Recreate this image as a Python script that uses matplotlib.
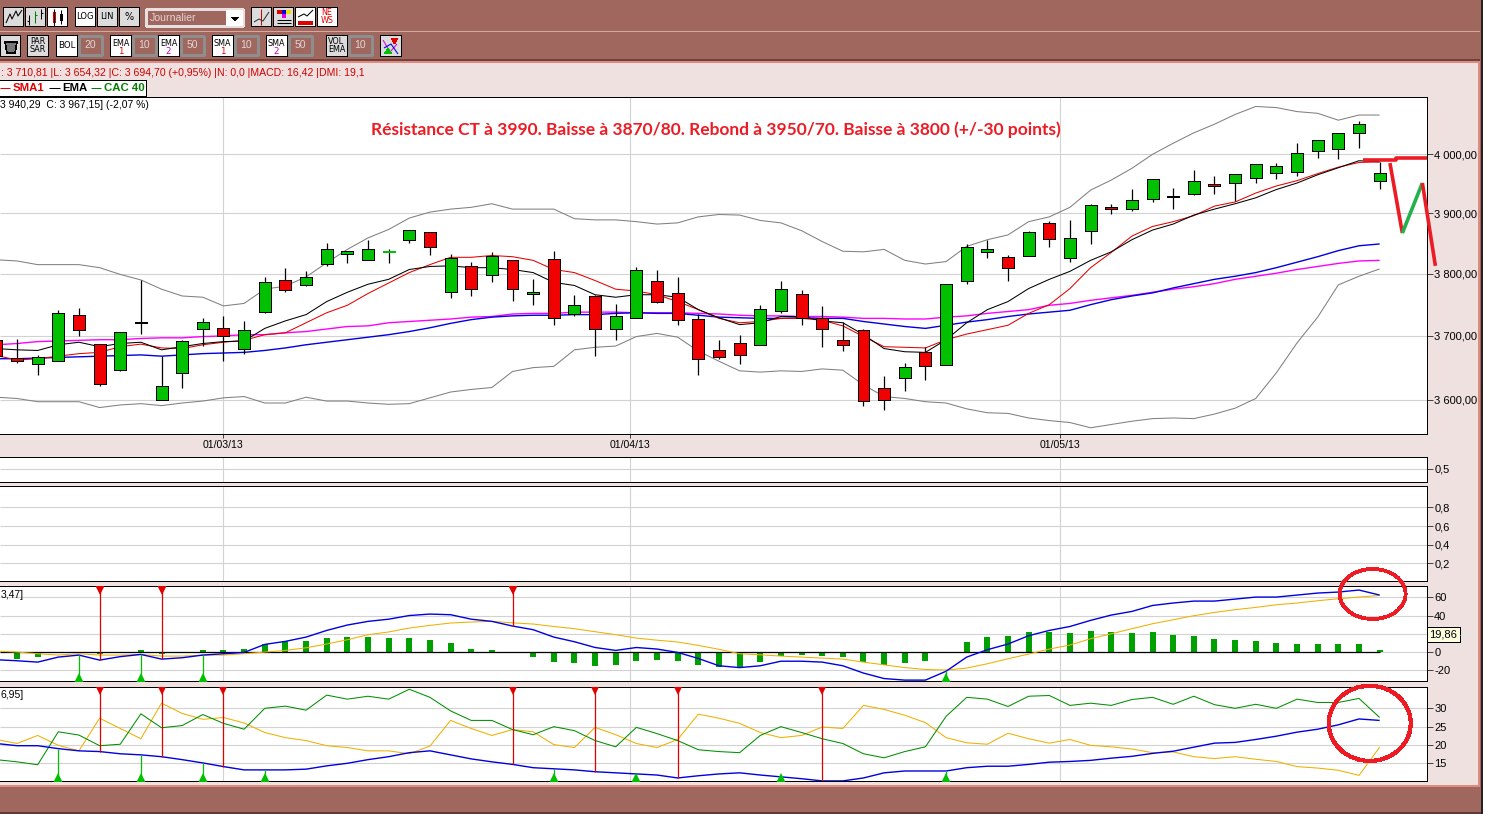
import numpy as np
import matplotlib
matplotlib.use('Agg')
from matplotlib import pyplot as plt
from matplotlib.patches import Rectangle, Ellipse, Polygon

W, H = 1485, 814
plt.rcParams['font.family'] = ['Liberation Sans', 'DejaVu Sans']
plt.rcParams['patch.antialiased'] = False
plt.rcParams['lines.solid_capstyle'] = 'butt'

# candles, one per session, first one is cut by the left edge
opens = [3694, 3665, 3656, 3661, 3734, 3687, 3647, 3722, 3600, 3642, 3711, 3712, 3679, 3738, 3790, 3782, 3816,
         3833, 3823, 3835, 3856, 3869, 3771, 3813, 3798, 3823, 3768, 3825, 3735, 3764, 3711, 3729, 3789, 3769,
         3727, 3678, 3689, 3686, 3740, 3768, 3729, 3693, 3709, 3618, 3634, 3675, 3654, 3788, 3835, 3828, 3829,
         3884, 3826, 3870, 3910, 3908, 3924, 3929, 3932, 3949, 3951, 3959, 3968, 3969, 4005, 4009, 4036, 3954]
highs = [3696, 3695, 3670, 3741, 3744, 3687, 3706, 3790, 3668, 3693, 3729, 3732, 3724, 3794, 3810, 3804, 3851,
         3838, 3856, 3841, 3872, 3869, 3833, 3820, 3836, 3823, 3792, 3838, 3766, 3766, 3751, 3811, 3807, 3795,
         3735, 3693, 3701, 3750, 3789, 3774, 3748, 3722, 3711, 3637, 3658, 3682, 3784, 3849, 3856, 3830, 3870,
         3887, 3889, 3915, 3915, 3941, 3958, 3942, 3973, 3963, 3966, 3983, 3985, 4019, 4024, 4036, 4058, 3986]
lows = [3667, 3658, 3639, 3661, 3700, 3622, 3644, 3703, 3600, 3619, 3684, 3660, 3672, 3736, 3770, 3780, 3812,
        3817, 3823, 3817, 3851, 3830, 3760, 3764, 3786, 3756, 3749, 3718, 3731, 3668, 3694, 3729, 3752, 3718,
        3639, 3663, 3655, 3686, 3736, 3717, 3683, 3676, 3591, 3585, 3613, 3630, 3654, 3784, 3826, 3788, 3829,
        3844, 3819, 3849, 3898, 3904, 3919, 3908, 3930, 3933, 3920, 3951, 3958, 3963, 3993, 3992, 4010, 3941]
closes = [3669, 3660, 3667, 3737, 3709, 3625, 3706, 3720, 3622, 3692, 3722, 3700, 3709, 3787, 3774, 3794, 3841,
          3838, 3841, 3837, 3872, 3844, 3826, 3776, 3829, 3776, 3771, 3729, 3750, 3711, 3732, 3807, 3755, 3725,
          3664, 3667, 3670, 3743, 3776, 3729, 3711, 3686, 3598, 3600, 3651, 3653, 3784, 3844, 3841, 3810, 3869,
          3857, 3859, 3914, 3907, 3922, 3958, 3927, 3954, 3946, 3966, 3983, 3980, 4002, 4024, 4036, 4052, 3968]

ema_black = [3680, 3678, 3677, 3686, 3690, 3683, 3688, 3690, 3678, 3683, 3688, 3691, 3692, 3712, 3724, 3734, 3755,
             3770, 3783, 3791, 3807, 3812, 3813, 3810, 3810, 3807, 3802, 3786, 3781, 3766, 3762, 3766, 3766, 3762,
             3742, 3729, 3718, 3721, 3731, 3731, 3724, 3721, 3702, 3680, 3675, 3674, 3694, 3721, 3742, 3755, 3776,
             3791, 3804, 3822, 3836, 3856, 3872, 3882, 3897, 3907, 3916, 3926, 3940, 3951, 3965, 3977, 3989, 3987]
sma_red = [3669, 3662, 3664, 3668, 3672, 3674, 3683, 3687, 3681, 3680, 3686, 3690, 3693, 3702, 3705, 3721, 3737,
           3749, 3768, 3785, 3802, 3815, 3827, 3827, 3830, 3828, 3822, 3807, 3802, 3789, 3775, 3772, 3766, 3755,
           3742, 3728, 3721, 3723, 3728, 3728, 3725, 3716, 3699, 3683, 3682, 3681, 3694, 3703, 3710, 3717, 3736,
           3750, 3776, 3810, 3835, 3862, 3878, 3886, 3896, 3912, 3919, 3934, 3946, 3955, 3967, 3978, 3986, 3987]
sma_magenta = [3686, 3688, 3691, 3692, 3693, 3694, 3694, 3696, 3697, 3697, 3699, 3700, 3702, 3702, 3705, 3707, 3711,
               3715, 3716, 3721, 3723, 3725, 3727, 3730, 3731, 3735, 3736, 3736, 3738, 3738, 3738, 3737, 3737, 3737,
               3736, 3735, 3733, 3732, 3732, 3731, 3731, 3730, 3728, 3728, 3727, 3727, 3730, 3732, 3736, 3739, 3742,
               3749, 3752, 3757, 3761, 3765, 3770, 3775, 3779, 3784, 3791, 3796, 3801, 3807, 3812, 3817, 3821, 3822]
ema_blue = [3664, 3664, 3665, 3666, 3667, 3668, 3669, 3670, 3668, 3670, 3672, 3673, 3674, 3677, 3681, 3686, 3690,
            3694, 3698, 3702, 3707, 3713, 3720, 3726, 3730, 3732, 3733, 3733, 3734, 3734, 3736, 3737, 3736, 3736,
            3733, 3730, 3729, 3728, 3728, 3729, 3728, 3728, 3723, 3719, 3715, 3712, 3717, 3722, 3726, 3731, 3735,
            3738, 3741, 3750, 3758, 3764, 3769, 3777, 3784, 3791, 3796, 3802, 3810, 3819, 3828, 3838, 3846, 3849]
boll_up = [3823, 3821, 3815, 3815, 3815, 3810, 3799, 3790, 3775, 3764, 3762, 3748, 3752, 3775, 3780, 3795, 3818,
           3840, 3859, 3873, 3892, 3902, 3907, 3910, 3916, 3907, 3907, 3907, 3891, 3889, 3889, 3886, 3882, 3884,
           3894, 3898, 3897, 3888, 3884, 3871, 3853, 3837, 3836, 3840, 3822, 3816, 3820, 3845, 3856, 3864, 3886,
           3894, 3910, 3939, 3956, 3976, 4000, 4019, 4037, 4052, 4069, 4083, 4081, 4074, 4071, 4059, 4068, 4068]
boll_low = [3604, 3602, 3597, 3597, 3597, 3588, 3592, 3594, 3591, 3595, 3598, 3603, 3605, 3595, 3595, 3604, 3598,
            3598, 3595, 3593, 3594, 3603, 3612, 3616, 3619, 3644, 3650, 3652, 3678, 3682, 3684, 3699, 3704, 3698,
            3676, 3660, 3645, 3643, 3645, 3644, 3648, 3646, 3623, 3605, 3602, 3597, 3595, 3586, 3580, 3579, 3572,
            3568, 3565, 3557, 3562, 3567, 3571, 3572, 3571, 3578, 3587, 3602, 3642, 3689, 3730, 3782, 3796, 3808]

macd_bars = [-8, -5.8, -0.3, -0.3, -2.5, -0.3, 2.5, -2.5, 0, 2.5, 2.5, 3.6, 9, 11.7, 12.4, 15.7, 16.8, 16.8, 15.7,
             15.7, 13.5, 10.2, 3.6, 2.5, -1, -5, -10.6, -11.7, -15, -13.9, -9.5, -8.4, -9.5, -13.9, -16, -16, -10.6,
             -4, -3, -4, -5, -11, -13.9, -11.7, -9.5, 0, 11.3, 16.8, 17.9, 22.3, 22.3, 21, 23.4, 22.3, 21, 22.3, 19,
             17.9, 14.6, 13.5, 12.4, 10.2, 9.1, 9.1, 9.1, 9.1, 2.6]
macd_line = [-8.4, -9.5, -11, -5.5, -3.3, -8.8, -5, -2.6, -7.7, -6.2, -3.3, -1.8, -0.4, 8.4, 11.7, 16.4, 23.7, 29.6,
             33.6, 36, 40, 41.6, 40.9, 36, 33.6, 28.5, 24.5, 16.4, 11.3, 5, 1.8, 5, 3.3, -0.4, -7, -15, -17, -15, -10,
             -10, -11, -15, -23, -29, -30.7, -30.7, -21, -5.5, 2.6, 8.8, 17.9, 23.7, 28, 34.7, 40.5, 44.5, 51, 53.7,
             55.8, 55.8, 58, 60.2, 60.2, 62.4, 64.6, 65.7, 67.9, 62.4]
macd_signal = [1, 0, -1.8, -3.3, -1.8, -3.3, -3.3, -2.6, -4.4, -4.4, -3.3, -3.3, -1.8, 0, 1.8, 4.7, 8.8, 13.5, 19, 22,
               26.3, 29.2, 31.8, 32.9, 33.6, 32, 30.7, 28, 25.6, 22.3, 19, 15.3, 13, 11, 7.3, 3, -1.8, -3, -4.4, -5.5,
               -6.6, -7.7, -11, -14, -17, -19, -19.7, -17.5, -12.8, -7.3, -2.2, 3.3, 7.7, 14.6, 20, 25.6, 31, 35.4,
               39.8, 43.4, 46.4, 48.9, 51.8, 53.7, 56.2, 58.4, 60.2, 62]
macd_sell = [4, 7, 24]
macd_buy = [3, 6, 9, 45]

dmi_green = [16, 15.4, 14.6, 23.6, 22.7, 19.8, 20.2, 28.5, 24.7, 25.3, 28.3, 25.9, 24.3, 30, 30.6, 29.5, 33.6, 32.5,
             33.3, 32.5, 35.2, 33, 29.3, 26.7, 26.7, 24.2, 22.8, 25, 23.9, 21.2, 19.5, 24.8, 23.1, 21.2, 18.7, 18.2,
             17.9, 22.6, 25, 23.4, 21.7, 20.4, 17.6, 16.5, 18.2, 19.5, 27.8, 33, 32.5, 30.5, 33.3, 33.5, 30.8, 31.4,
             30.8, 32.4, 33, 31.1, 33.3, 31, 30, 31.1, 30, 32.5, 31.6, 31.6, 32.7, 27.5]
dmi_orange = [21.5, 20.4, 22.6, 19.9, 18.4, 27.3, 24.5, 21.7, 31.4, 28.6, 27, 27.5, 26, 23.4, 22, 21.2, 19.8, 19.3,
              18.4, 18.4, 17.6, 19.7, 26.7, 24.5, 22.6, 24.2, 23.6, 20.1, 19.3, 24.8, 22.8, 20.4, 19.3, 21.5, 28.4,
              27.3, 25.9, 23.4, 22, 22.6, 24.9, 24.5, 30.8, 29.7, 28.1, 26.1, 22, 20.6, 20.2, 23.2, 21.7, 20.5, 21.5,
              19.9, 19.5, 18.9, 17.9, 18.1, 16.8, 16.3, 16.8, 16.1, 15.5, 14.1, 13.7, 13.1, 11.7, 19.4]
dmi_blue = [20.4, 19.8, 19.8, 19, 18.4, 18.2, 17.6, 17.3, 16.8, 16, 15.1, 14.1, 13.2, 13.2, 13.2, 13.4, 14.3, 15, 16,
            16.8, 17.9, 18.4, 17.3, 16.2, 15.4, 14.7, 13.8, 13.5, 13.2, 12.7, 12.4, 12.1, 11.8, 11, 11.6, 12.1, 12.4,
            11.8, 11.3, 10.8, 10.2, 10.2, 11, 12.4, 12.9, 12.9, 12.9, 13.8, 14.2, 14.2, 14.7, 15.3, 15.5, 15.8, 16.4,
            16.9, 17.7, 18.3, 19.4, 20.5, 20.7, 21.5, 22.4, 23.5, 24.3, 25.5, 27.1, 26.7]
dmi_sell = [4, 7, 10, 24, 28, 32, 39]
dmi_buy = [2, 6, 9, 12, 26, 30, 37, 45]

# the hand drawn forecast on top of the chart
plan_idx = [66.5, 67.1, 68.07, 68.7]
plan_price = [3985, 3867, 3951, 3813]
res_idx = [65.2, 66.8, 66.8, 68.27]
res_price = [3991, 3991, 3993, 3993]

price_ticks = [3600, 3700, 3800, 3900, 4000]
price_labels = ['3 600,00', '3 700,00', '3 800,00', '3 900,00', '4 000,00']
date_pos = [9.98, 29.68, 50.5]
date_labels = ['01/03/13', '01/04/13', '01/05/13']
title = 'Résistance CT à 3990. Baisse à 3870/80. Rebond à 3950/70. Baisse à 3800 (+/-30 points)'
status = ': 3 710,81 |L: 3 654,32 |C: 3 694,70 (+0,95%) |N: 0,0 |MACD: 16,42 |DMI: 19,1'

BROWN = '#a0675f'
PINK = '#f0e1e1'
GRID = '#d2d2d2'
THIN = 0.5
CURVE = 0.75
THICK = 1.0
XLIM = (-0.824, 68.27)
idx = np.arange(-1, len(opens) - 1)

fig = plt.figure(figsize=(W / 100, H / 100), dpi=100, facecolor=PINK)


def panel(l, t, r, b, ylim, ticks, labels):
    ax = fig.add_axes([l / W, 1 - b / H, (r - l) / W, (b - t) / H], zorder=2)
    ax.set_xlim(XLIM)
    ax.set_ylim(ylim)
    ax.yaxis.tick_right()
    ax.set_yticks(ticks, labels)
    ax.minorticks_off()
    ax.set_xticks(date_pos, [])
    ax.tick_params(axis='y', length=4, width=THIN, labelsize=8.0, pad=1.5)
    ax.tick_params(axis='x', length=0)
    ax.grid(True, color=GRID, lw=0.8)
    ax.set_axisbelow(True)
    ax.spines['left'].set_visible(False)
    for s in ['top', 'bottom', 'right']:
        ax.spines[s].set_linewidth(0.7)
    return ax


# window chrome, in pixels
ch = fig.add_axes([0, 0, 1, 1], zorder=0)
ch.set_xlim(0, W)
ch.set_ylim(H, 0)
ch.axis('off')


def box(x0, y0, x1, y1, face, edge='none', lw=THIN, z=1):
    ch.add_patch(Rectangle((x0, y0), x1 - x0, y1 - y0, facecolor=face, edgecolor=edge, lw=lw, zorder=z))


box(0, 0, W, 61, BROWN)
box(1478, 0, W, H, BROWN)
box(0, 787, W, H, BROWN)
box(0, 61, 1478, 63, '#e08a80')
box(1478, 61, 1480, 787, '#e08a80', z=2)
box(0, 785, 1480, 787, '#e08a80', z=2)
box(0, 30.5, 1480, 32, '#d8a8a0', z=2)
box(0, 59, 1480, 61, '#6e413c', z=2)
box(0, 812, W, H, '#5c3a36', z=2)
box(1481, 0, 1483, H, '#222222', z=3)
box(1483, 0, W, H, 'white', z=3)


def button(x0, y0, x1, y1, text=None, face='#dcdcdc', size=6.0, color='black'):
    box(x0 + 1, y0 + 1, x1, y1, '#111111', z=3)
    box(x0, y0, x1 - 1, y1 - 1, face, edge='black', z=3)
    if text:
        ch.text((x0 + x1) / 2 - 0.5, (y0 + y1) / 2 - 0.5, text, ha='center', va='center', fontsize=size,
                color=color, linespacing=0.95, zorder=5, family='DejaVu Sans')


def number_box(x0, y0, x1, y1, text):
    box(x0, y0, x1, y1, BROWN, edge='#8e8e8e', lw=0.9, z=3)
    ch.text((x0 + x1) / 2, (y0 + y1) / 2, text, ha='center', va='center', fontsize=7.5, color='#e2d4d2', zorder=5)


def icon(xs, ys, color='black', lw=CURVE):
    ch.plot(xs, ys, color=color, lw=lw, zorder=6)


button(3, 7, 24, 27)
icon([6, 10, 12, 16, 18, 22], [23, 14, 19, 11, 16, 10])
button(25, 7, 46, 27)
icon([29, 29], [15, 25]); icon([35, 35], [11, 23], '#008000'); icon([41, 41], [9, 19])
icon([27, 29], [21, 21]); icon([35, 37], [15, 15], '#008000'); icon([41, 43], [13, 13])
button(47, 7, 68, 27, face='white')
box(53, 12, 56, 23, '#e00000', z=6); box(60, 14, 63, 21, 'black', z=6)
icon([54, 54], [9, 26]); icon([61, 61], [10, 24])
button(75, 7, 96, 27, 'LOG', face='white')
button(97, 7, 118, 27, 'LIN')
button(119, 7, 140, 27, '%', size=7)
box(146, 9, 243, 26, BROWN, edge='#e8e0e0', lw=0.9, z=3)
box(226, 10, 243, 26, 'white', z=4)
ch.add_patch(Polygon([(231, 17), (239, 17), (235, 21)], facecolor='black', zorder=5))
ch.text(150, 18, 'Journalier', va='center', fontsize=7.6, color='#e2d4d2', zorder=5)
button(251, 7, 272, 27)
icon([261, 261], [9, 25], '#d00000'); icon([254, 259, 263, 269], [22, 19, 21, 12], '#333333')
button(273, 7, 294, 27)
box(277, 10, 282, 14, '#e00000', z=6); box(282, 10, 286, 14, '#0000e0', z=6); box(286, 10, 291, 14, '#f0e000', z=6)
box(282, 14, 286, 18, '#e000e0', z=6)
icon([277, 291], [20, 20]); icon([277, 291], [23, 23])
button(295, 7, 316, 27, face='white')
icon([298, 304, 307, 313], [17, 14, 16, 10]); box(298, 21, 313, 25, '#e00000', z=6)
button(317, 7, 338, 27, 'NE\nWS', face='white', size=5.8, color='#e00000')

button(0, 35, 21, 57)
ch.add_patch(Polygon([(5, 42), (17, 42), (15, 53), (7, 53)], facecolor='#777777', edgecolor='black', lw=THIN, zorder=6))
button(27, 35, 49, 57, 'PAR\nSAR', size=5.8)
button(56, 35, 78, 57, 'BOL', face='white', size=6.2)
number_box(79, 36, 102, 55, '20')
for x0, name, num, col, val, x2 in [(110, 'EMA', '1', '#e00000', '10', 133), (158, 'EMA', '2', '#c000c0', '50', 181),
                                    (212, 'SMA', '1', '#e00000', '10', 235), (266, 'SMA', '2', '#c000c0', '50', 289)]:
    button(x0, 35, x0 + 22, 57, face='white')
    ch.text(x0 + 10.5, 43, name, ha='center', va='center', fontsize=5.8, zorder=6, family='DejaVu Sans')
    ch.text(x0 + 10.5, 51.5, num, ha='center', va='center', fontsize=6.2, color=col, zorder=6, family='DejaVu Sans')
    number_box(x2, 36, x2 + 23, 55, val)
button(326, 35, 348, 57, 'VOL\nEMA', size=5.8)
number_box(349, 36, 372, 55, '10')
button(380, 35, 402, 57)
icon([383, 390, 397], [40, 52, 44], '#e000e0'); icon([384, 391, 398], [48, 44, 54], '#0000e0')
ch.add_patch(Polygon([(391, 38), (398, 38), (394.5, 44)], facecolor='#e00000', zorder=7))
ch.add_patch(Polygon([(384, 54), (392, 54), (388, 48)], facecolor='#00c000', zorder=7))

ch.text(1, 72.5, status, va='center', fontsize=7.6, color='#d00000', zorder=5)
box(-2, 80, 145.5, 95.5, 'white', edge='black', lw=0.7, z=3)
icon([0, 10], [88, 88], '#e00000'); icon([49, 60], [88, 88], 'black'); icon([91, 101], [88, 88], '#008000')
ch.text(13, 88, 'SMA1', va='center', fontsize=8.2, weight='bold', color='#e00000', zorder=5)
ch.text(62, 88, 'EMA', va='center', fontsize=8.2, weight='bold', color='black', zorder=5)
ch.text(104, 88, 'CAC 40', va='center', fontsize=8.2, weight='bold', color='#008000', zorder=5)

# main price panel
ax = panel(0, 97, 1426.5, 434, (3547.5, 4099.6), price_ticks, price_labels)
ax.set_yscale('log')
ax.set_ylim(3547.5, 4099.6)
ax.set_yticks(price_ticks, price_labels)
ax.minorticks_off()
ax.tick_params(axis='x', length=3, width=THIN, labelsize=7.6, pad=1.5)
ax.set_xticks(date_pos, date_labels)

ax.plot(idx, boll_up, color='#808080', lw=CURVE, zorder=3)
ax.plot(idx, boll_low, color='#808080', lw=CURVE, zorder=3)
ax.plot(idx, sma_magenta, color='#ff00ff', lw=THICK, zorder=3)
ax.plot(idx, ema_blue, color='#0000e0', lw=THICK, zorder=3)
ax.plot(idx, sma_red, color='#e80000', lw=CURVE, zorder=3)
ax.plot(idx, ema_black, color='black', lw=CURVE, zorder=3)

opens_a, closes_a = np.array(opens), np.array(closes)
body_col = np.where(closes_a >= opens_a, '#00c000', '#f00000')
edge_col = ['#00c000' if i == 18 else 'black' for i in idx]
ax.vlines(idx, lows, highs, color='black', lw=0.9, zorder=4)
ax.bar(idx, np.abs(closes_a - opens_a), width=0.58, bottom=np.minimum(opens_a, closes_a), color=body_col,
       edgecolor=edge_col, lw=0.7, zorder=5)

ax.plot(plan_idx[:2], plan_price[:2], color='#ed1c24', lw=2.6, clip_on=False, zorder=7)
ax.plot(plan_idx[1:3], plan_price[1:3], color='#22b14c', lw=2.6, clip_on=False, zorder=8)
ax.plot(plan_idx[2:], plan_price[2:], color='#ed1c24', lw=2.6, clip_on=False, zorder=8)
ax.plot(res_idx, res_price, color='#ed1c24', lw=2.6, clip_on=False, zorder=7)

fig.text(371 / W, 1 - 130 / H, title, va='center', ha='left', fontsize=12.55, weight='bold', color='#ed1c24',
         family=['Lato', 'DejaVu Sans'])
fig.text(0.5 / W, 1 - 105 / H, '3 940,29  C: 3 967,15] (-2,07 %)', va='center', fontsize=7.5)

# two empty indicator panels
panel(0, 456.5, 1426.5, 481.5, (0, 1), [0.5], ['0,5'])
panel(0, 486, 1426.5, 581.3, (0.007, 1.03), [0.2, 0.4, 0.6, 0.8], ['0,2', '0,4', '0,6', '0,8'])

# MACD
ax3 = panel(0, 586.3, 1426.5, 681.3, (-32, 72), [-20, 0, 20, 40, 60], ['-20', '0', '', '40', '60'])
ax3.bar(idx[1:], macd_bars, width=0.29, color='#00a000', zorder=3)
ax3.hlines(0, XLIM[0], 66, color='black', lw=0.9, zorder=4)
ax3.plot(idx, macd_signal, color='#f0b000', lw=CURVE, zorder=4)
ax3.plot(idx, macd_line, color='#0000e0', lw=THICK, zorder=5)
macd_vals = np.array(macd_line)
ax3.vlines(macd_sell, macd_vals[np.array(macd_sell) + 1], 72, color='#e00000', lw=0.9, zorder=6)
ax3.vlines(macd_buy, -32, macd_vals[np.array(macd_buy) + 1], color='#00c000', lw=0.9, zorder=6)
ax3.plot(macd_sell, [0.965] * len(macd_sell), 'v', color='#e00000', ms=7, mew=0,
         transform=ax3.get_xaxis_transform(), zorder=7)
ax3.plot(macd_buy, [0.035] * len(macd_buy), '^', color='#00c000', ms=7, mew=0,
         transform=ax3.get_xaxis_transform(), zorder=7)
ax3.add_patch(Ellipse((65.66, 63.6), 3.2, 54.8, fill=False, edgecolor='#ed1c24', lw=2.0, clip_on=False, zorder=9))
fig.text(0.5 / W, 1 - 594.5 / H, '3,47]', va='center', fontsize=7.5)

# DMI
ax4 = panel(0, 686.7, 1426.5, 781, (10.17, 35.9), [15, 20, 25, 30], ['15', '20', '25', '30'])
ax4.plot(idx, dmi_orange, color='#f0b000', lw=CURVE, zorder=4)
ax4.plot(idx, dmi_green, color='#009000', lw=CURVE, zorder=4)
ax4.plot(idx, dmi_blue, color='#0000e0', lw=THICK, zorder=5)
dmi_vals = np.array(dmi_blue)
ax4.vlines(dmi_sell, dmi_vals[np.array(dmi_sell) + 1], 35.9, color='#e00000', lw=0.9, zorder=6)
ax4.vlines(dmi_buy, 10.17, dmi_vals[np.array(dmi_buy) + 1], color='#00c000', lw=0.9, zorder=6)
ax4.plot(dmi_sell, [0.965] * len(dmi_sell), 'v', color='#e00000', ms=7, mew=0,
         transform=ax4.get_xaxis_transform(), zorder=7)
ax4.plot(dmi_buy, [0.035] * len(dmi_buy), '^', color='#00c000', ms=7, mew=0,
         transform=ax4.get_xaxis_transform(), zorder=7)
ax4.add_patch(Ellipse((65.52, 25.9), 3.97, 20.5, fill=False, edgecolor='#ed1c24', lw=2.3, clip_on=False, zorder=9))
fig.text(0.5 / W, 1 - 694.5 / H, '6,95]', va='center', fontsize=7.5)

# value tag on the MACD scale, above the tick marks
top = fig.add_axes([0, 0, 1, 1], zorder=5)
top.set_xlim(0, W)
top.set_ylim(H, 0)
top.axis('off')
top.plot([1460, 1476], [634.5, 634.5], color='#d4ece6', lw=0.8)
top.add_patch(Rectangle((1427, 627), 33, 15, facecolor='#ffffe0', edgecolor='black', lw=0.7))
top.text(1443.5, 634.5, '19,86', ha='center', va='center', fontsize=8.0)

fig.savefig('out.png', dpi=100, facecolor=PINK)
